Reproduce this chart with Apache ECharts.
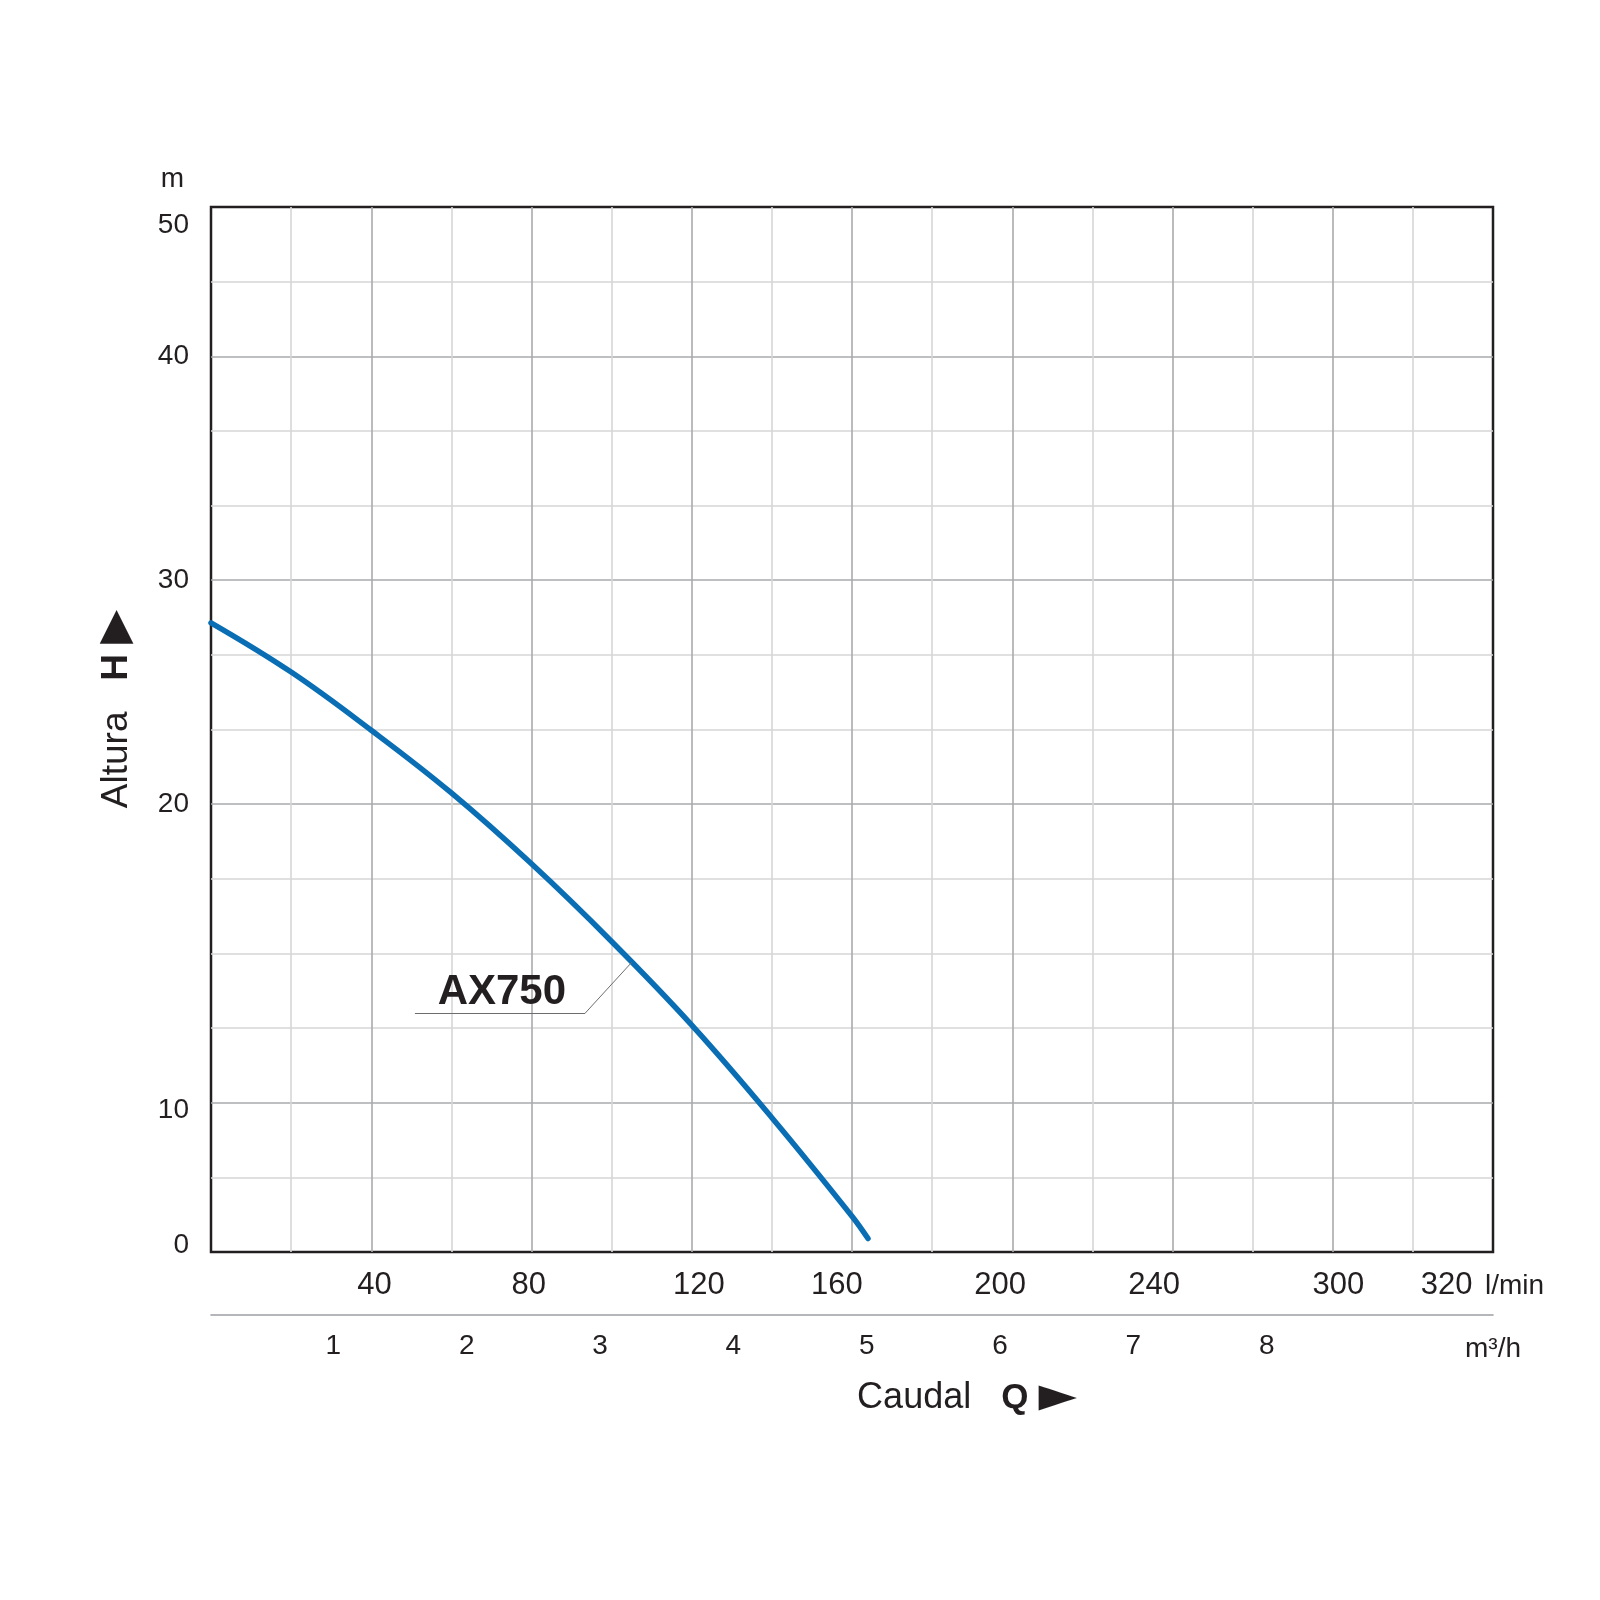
<!DOCTYPE html>
<html>
<head>
<meta charset="UTF-8">
<title>AX750 - Curva caudal / altura</title>
<script src="https://cdn.jsdelivr.net/npm/echarts@6/dist/echarts.min.js"></script>
<style>
    html, body { margin: 0; padding: 0; background: #fff; }
    #main { width: 1600px; height: 1600px; }
</style>
</head>
<body>
<div id="main"></div>
<script type="text/javascript">
    // curva AX750: caudal (l/min) y altura (m)
    var caudal = [0, 20, 40, 60, 80, 100, 120, 140, 160, 164];
    var altura = [28.1, 25.9, 23.3, 20.5, 18.0, 15.4, 12.6, 9.0, 2.4, 0.9];

    // textos de los ejes
    var etiquetasH  = ['0', '10', '20', '30', '40', '50'];
    var etiquetasQ  = ['40', '80', '120', '160', '200', '240', '300', '320'];
    var etiquetasM3 = ['1', '2', '3', '4', '5', '6', '7', '8'];

    // la escala de altura no es lineal: metros -> linea de la cuadricula
    var escalaH = [0, 10, 20, 30, 40, 50];
    var lineaH  = [0, 2, 6, 9, 12, 14];

    // donde van las etiquetas (unidades de cada eje)
    var posH  = [0.09, 1.9, 6, 9, 12, 13.76];
    var posQ  = [40.8, 79.3, 121.8, 156.2, 197, 235.4, 281.4, 308.4];
    var posM3 = [1, 2, 3, 4, 5, 6, 7, 8];

    var TEXTO = '#231f20';
    var FUENTE = '"Liberation Sans", Arial, sans-serif';
    var GRIS_CLARO = '#d6d6d6', GRIS_OSCURO = '#a8aaad', NADA = 'rgba(0,0,0,0)';

    function aLinea(m) {
        for (var i = 1; i < escalaH.length; i++) {
            if (m <= escalaH[i]) {
                var t = (m - escalaH[i - 1]) / (escalaH[i] - escalaH[i - 1]);
                return lineaH[i - 1] + t * (lineaH[i] - lineaH[i - 1]);
            }
        }
        return lineaH[lineaH.length - 1];
    }

    function etiqueta(lista, pos) {
        return function (v) {
            var k = 0;
            for (var i = 1; i < pos.length; i++) {
                if (Math.abs(pos[i] - v) < Math.abs(pos[k] - v)) k = i;
            }
            return lista[k];
        };
    }

    // lineas verticales cada 20 l/min, oscuras cada 40
    var coloresV = [];
    for (var i = 0; i <= 16; i++) {
        coloresV.push(i === 0 || i === 16 ? NADA : (i % 2 ? GRIS_CLARO : GRIS_OSCURO));
    }
    // lineas horizontales, oscuras donde hay etiqueta
    var coloresH = [];
    for (var j = 0; j <= 14; j++) {
        coloresH.push(j === 0 || j === 14 ? NADA : (lineaH.indexOf(j) >= 0 ? GRIS_OSCURO : GRIS_CLARO));
    }

    var datos = caudal.map(function (q, k) { return [q, aLinea(altura[k])]; });

    var chart = echarts.init(document.getElementById('main'));

    var option = {
        backgroundColor: '#ffffff',
        animation: false,
        textStyle: { fontFamily: FUENTE, color: TEXTO },
        grid: {
            left: 211, right: 107, top: 207, bottom: 348,
            show: true, borderColor: TEXTO, borderWidth: 2.5,
            outerBoundsMode: 'none'
        },
        xAxis: [
            {
                type: 'value', min: 0, max: 320, interval: 20, position: 'bottom',
                axisLine: { show: false }, axisTick: { show: false },
                splitLine: { show: true, lineStyle: { color: coloresV, width: 1.6 } },
                axisLabel: {
                    customValues: posQ, formatter: etiqueta(etiquetasQ, posQ),
                    margin: 18, fontSize: 31, color: TEXTO,
                    fontFamily: '"Liberation Sans Narrow", "Liberation Sans", Arial, sans-serif'
                },
                name: 'l/min', nameLocation: 'end', nameGap: -8,
                nameTextStyle: { fontSize: 28, color: TEXTO, align: 'left', verticalAlign: 'top', padding: [20, 0, 0, 0] }
            },
            {
                type: 'value', min: 0.0825, max: 9.6975, position: 'bottom', offset: 63,
                axisLine: { show: true, lineStyle: { color: '#9d9fa2', width: 1.6 } },
                axisTick: { show: false }, splitLine: { show: false },
                axisLabel: {
                    customValues: posM3, formatter: etiqueta(etiquetasM3, posM3),
                    margin: 17, fontSize: 28, color: TEXTO
                },
                name: 'm³/h', nameLocation: 'end', nameGap: -28,
                nameTextStyle: { fontSize: 28, color: TEXTO, align: 'left', verticalAlign: 'top', padding: [20, 0, 0, 0] }
            }
        ],
        yAxis: [
            {
                type: 'value', min: 0, max: 14, interval: 1,
                axisLine: { show: false }, axisTick: { show: false },
                splitLine: { show: true, lineStyle: { color: coloresH, width: 1.6 } },
                axisLabel: {
                    customValues: posH, formatter: etiqueta(etiquetasH, posH),
                    margin: 22, fontSize: 28, color: TEXTO
                },
                name: 'm', nameLocation: 'end', nameGap: 14,
                nameTextStyle: { fontSize: 28, color: TEXTO, align: 'right', padding: [0, 27, 0, 0] }
            }
        ],
        graphic: [
            {
                type: 'text', x: 117, y: 709, rotation: Math.PI / 2,
                style: {
                    text: 'Altura   {b|H} {t|▶}',
                    fontSize: 37, fontFamily: FUENTE, fill: TEXTO,
                    align: 'center', verticalAlign: 'middle',
                    rich: {
                        b: { fontSize: 37, fontWeight: 'bold', fontFamily: FUENTE, fill: TEXTO },
                        t: { fontSize: 44, fontFamily: '"DejaVu Sans", sans-serif', fill: TEXTO }
                    }
                }
            },
            {
                type: 'text', x: 967, y: 1398,
                style: {
                    text: 'Caudal   {b|Q} {t|►}',
                    fontSize: 36, fontFamily: FUENTE, fill: TEXTO,
                    align: 'center', verticalAlign: 'middle',
                    rich: {
                        b: { fontSize: 35, fontWeight: 'bold', fontFamily: FUENTE, fill: TEXTO },
                        t: { fontSize: 50, fontFamily: '"DejaVu Sans", sans-serif', fill: TEXTO }
                    }
                }
            }
        ],
        series: [
            {
                name: 'AX750',
                type: 'line',
                xAxisIndex: 0, yAxisIndex: 0,
                data: datos,
                smooth: 0.4,
                symbol: 'none',
                lineStyle: { color: '#0a6eb4', width: 5.5, cap: 'round' },
                markLine: {
                    silent: true, symbol: ['none', 'none'],
                    label: { show: false },
                    lineStyle: { color: '#6d6e71', width: 1, type: 'solid' },
                    data: [
                        [{ coord: [105, aLinea(14.7)] }, { coord: [93.4, aLinea(13.0)] }],
                        [{ coord: [93.4, aLinea(13.0)] }, { coord: [50.9, aLinea(13.0)] }]
                    ]
                },
                markPoint: {
                    silent: true, symbol: 'circle', symbolSize: 1,
                    itemStyle: { color: NADA },
                    label: {
                        show: true, position: 'inside', formatter: 'AX750',
                        fontSize: 42, fontWeight: 'bold', color: TEXTO, fontFamily: FUENTE
                    },
                    data: [{ coord: [72.6, aLinea(13.7)] }]
                }
            }
        ]
    };

    chart.setOption(option);
</script>
</body>
</html>
